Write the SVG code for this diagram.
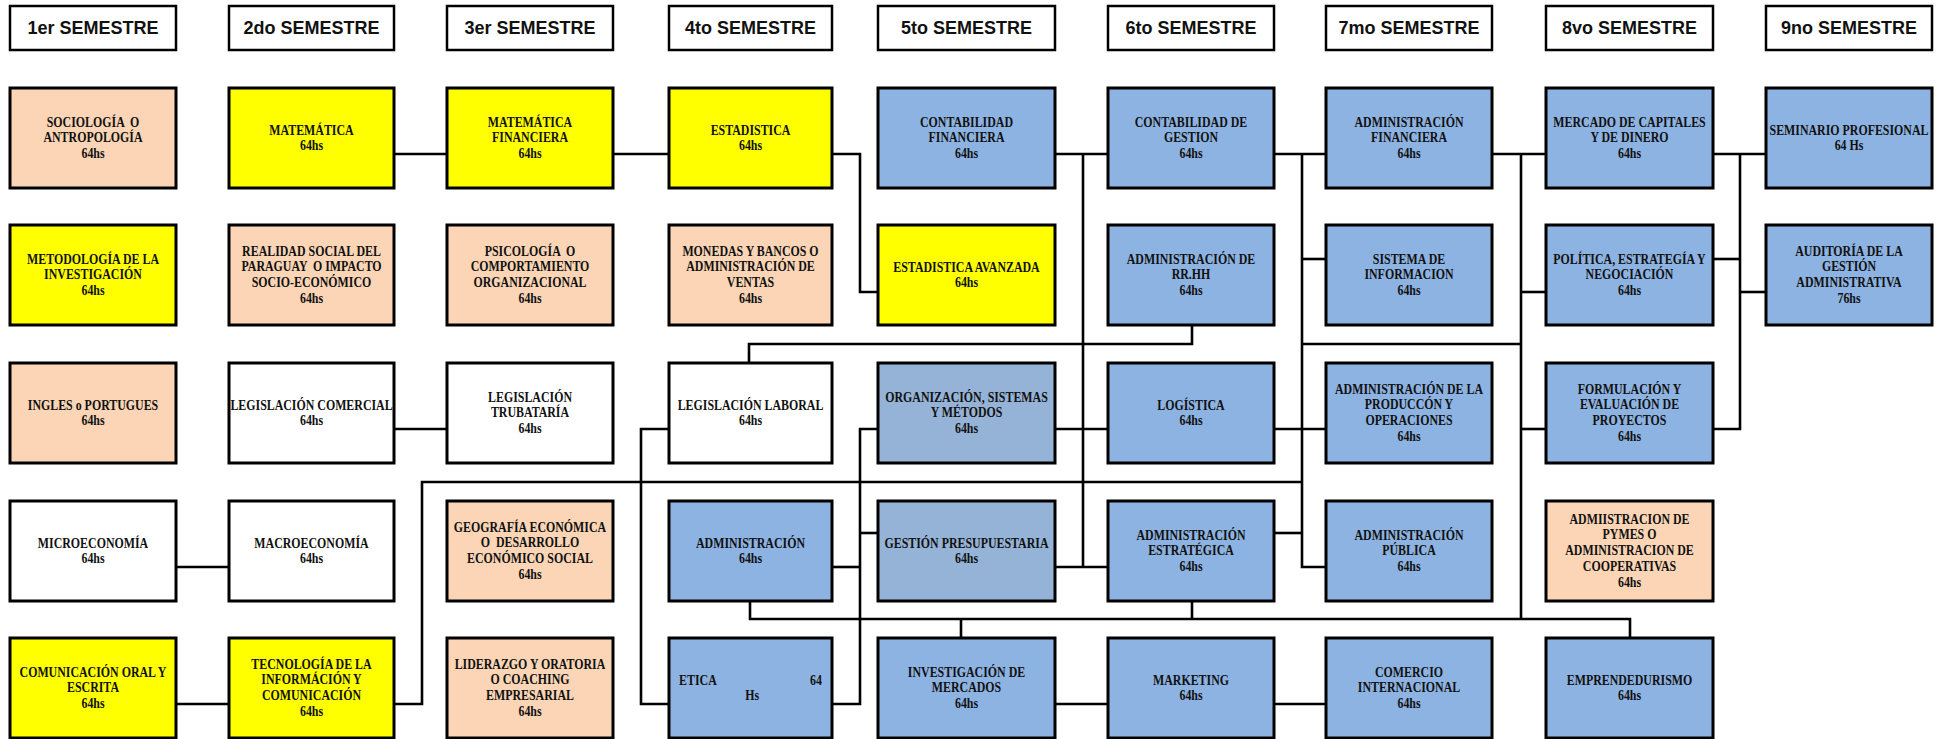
<svg xmlns="http://www.w3.org/2000/svg" width="1942" height="739" viewBox="0 0 1942 739">
<style>
.hd{fill:#fff;stroke:#000;stroke-width:2.5}
.ht{font-family:"Liberation Sans",Arial,sans-serif;font-weight:bold;font-size:18px;fill:#111;text-anchor:middle}
.n{stroke:#000;stroke-width:3}
.pe{fill:#FBD5B5}.ye{fill:#FFFF00}.wh{fill:#FFFFFF}.bl{fill:#8DB3E2}.gb{fill:#95B3D7}
.t{font-family:"Liberation Serif","Times New Roman",serif;font-weight:bold;font-size:14px;fill:#111;text-anchor:middle;white-space:pre}
.c{fill:none;stroke:#000;stroke-width:2.6}
</style>
<rect width="1942" height="739" fill="#fff"/>
<g id="headers">
<g id="h1"><rect class="hd" x="10" y="6" width="166" height="44"/><text class="ht" x="93" y="34">1er SEMESTRE</text></g>
<g id="h2"><rect class="hd" x="229" y="6" width="165" height="44"/><text class="ht" x="311.5" y="34">2do SEMESTRE</text></g>
<g id="h3"><rect class="hd" x="447" y="6" width="166" height="44"/><text class="ht" x="530" y="34">3er SEMESTRE</text></g>
<g id="h4"><rect class="hd" x="669" y="6" width="163" height="44"/><text class="ht" x="750.5" y="34">4to SEMESTRE</text></g>
<g id="h5"><rect class="hd" x="878" y="6" width="177" height="44"/><text class="ht" x="966.5" y="34">5to SEMESTRE</text></g>
<g id="h6"><rect class="hd" x="1108" y="6" width="166" height="44"/><text class="ht" x="1191" y="34">6to SEMESTRE</text></g>
<g id="h7"><rect class="hd" x="1326" y="6" width="166" height="44"/><text class="ht" x="1409" y="34">7mo SEMESTRE</text></g>
<g id="h8"><rect class="hd" x="1546" y="6" width="167" height="44"/><text class="ht" x="1629.5" y="34">8vo SEMESTRE</text></g>
<g id="h9"><rect class="hd" x="1766" y="6" width="166" height="44"/><text class="ht" x="1849" y="34">9no SEMESTRE</text></g>
</g>
<g id="connectors">
<path class="c" d="M394,154H447"/>
<path class="c" d="M613,154H669"/>
<path class="c" d="M832,154H860V292H878"/>
<path class="c" d="M1055,154H1108"/>
<path class="c" d="M1083,154V567"/>
<path class="c" d="M1274,154H1326"/>
<path class="c" d="M1302,154V567H1326"/>
<path class="c" d="M1302,259H1326"/>
<path class="c" d="M1492,154H1546"/>
<path class="c" d="M1521,154V619"/>
<path class="c" d="M1521,292H1546"/>
<path class="c" d="M1521,429H1546"/>
<path class="c" d="M1713,154H1766"/>
<path class="c" d="M1740,154V429H1713"/>
<path class="c" d="M1713,259H1740"/>
<path class="c" d="M1740,292H1766"/>
<path class="c" d="M1192,325V344H749V363"/>
<path class="c" d="M1302,344H1521"/>
<path class="c" d="M394,429H447"/>
<path class="c" d="M669,429H641V704H669"/>
<path class="c" d="M878,429H860V704H832"/>
<path class="c" d="M1055,429H1108"/>
<path class="c" d="M1274,429H1326"/>
<path class="c" d="M394,704H422V482H1302"/>
<path class="c" d="M176,567H229"/>
<path class="c" d="M176,704H229"/>
<path class="c" d="M832,567H860"/>
<path class="c" d="M860,533H878"/>
<path class="c" d="M1055,567H1108"/>
<path class="c" d="M1274,533H1302"/>
<path class="c" d="M750,601V619H1630V638"/>
<path class="c" d="M961,619V638"/>
<path class="c" d="M1192,601V619"/>
<path class="c" d="M1055,704H1108"/>
<path class="c" d="M1274,704H1326"/>
</g>
<g id="col1">
<g id="n-sociologia"><rect class="n pe" x="10" y="88" width="166" height="100"/><text class="t" transform="translate(93,126.5) scale(0.85,1)"><tspan x="0">SOCIOLOGÍA  O</tspan><tspan x="0" dy="16">ANTROPOLOGÍA</tspan><tspan x="0" dy="16">64hs</tspan></text></g>
<g id="n-metodologia"><rect class="n ye" x="10" y="225" width="166" height="100"/><text class="t" transform="translate(93,263.5) scale(0.85,1)"><tspan x="0">METODOLOGÍA DE LA</tspan><tspan x="0" dy="16">INVESTIGACIÓN</tspan><tspan x="0" dy="16">64hs</tspan></text></g>
<g id="n-ingles"><rect class="n pe" x="10" y="363" width="166" height="100"/><text class="t" transform="translate(93,409.5) scale(0.85,1)"><tspan x="0">INGLES o PORTUGUES</tspan><tspan x="0" dy="16">64hs</tspan></text></g>
<g id="n-micro"><rect class="n wh" x="10" y="501" width="166" height="100"/><text class="t" transform="translate(93,547.5) scale(0.85,1)"><tspan x="0">MICROECONOMÍA</tspan><tspan x="0" dy="16">64hs</tspan></text></g>
<g id="n-comunicacion"><rect class="n ye" x="10" y="638" width="166" height="100"/><text class="t" transform="translate(93,676.5) scale(0.85,1)"><tspan x="0">COMUNICACIÓN ORAL Y</tspan><tspan x="0" dy="16">ESCRITA</tspan><tspan x="0" dy="16">64hs</tspan></text></g>
</g>
<g id="col2">
<g id="n-matematica"><rect class="n ye" x="229" y="88" width="165" height="100"/><text class="t" transform="translate(311.5,134.5) scale(0.85,1)"><tspan x="0">MATEMÁTICA</tspan><tspan x="0" dy="16">64hs</tspan></text></g>
<g id="n-realidad"><rect class="n pe" x="229" y="225" width="165" height="100"/><text class="t" transform="translate(311.5,255.5) scale(0.85,1)"><tspan x="0">REALIDAD SOCIAL DEL</tspan><tspan x="0" dy="16">PARAGUAY  O IMPACTO</tspan><tspan x="0" dy="16">SOCIO-ECONÓMICO</tspan><tspan x="0" dy="16">64hs</tspan></text></g>
<g id="n-legcom"><rect class="n wh" x="229" y="363" width="165" height="100"/><text class="t" transform="translate(311.5,409.5) scale(0.85,1)"><tspan x="0">LEGISLACIÓN COMERCIAL</tspan><tspan x="0" dy="16">64hs</tspan></text></g>
<g id="n-macro"><rect class="n wh" x="229" y="501" width="165" height="100"/><text class="t" transform="translate(311.5,547.5) scale(0.85,1)"><tspan x="0">MACROECONOMÍA</tspan><tspan x="0" dy="16">64hs</tspan></text></g>
<g id="n-tecnologia"><rect class="n ye" x="229" y="638" width="165" height="100"/><text class="t" transform="translate(311.5,668.5) scale(0.85,1)"><tspan x="0">TECNOLOGÍA DE LA</tspan><tspan x="0" dy="16">INFORMÁCIÓN Y</tspan><tspan x="0" dy="16">COMUNICACIÓN</tspan><tspan x="0" dy="16">64hs</tspan></text></g>
</g>
<g id="col3">
<g id="n-matfin"><rect class="n ye" x="447" y="88" width="166" height="100"/><text class="t" transform="translate(530,126.5) scale(0.85,1)"><tspan x="0">MATEMÁTICA</tspan><tspan x="0" dy="16">FINANCIERA</tspan><tspan x="0" dy="16">64hs</tspan></text></g>
<g id="n-psicologia"><rect class="n pe" x="447" y="225" width="166" height="100"/><text class="t" transform="translate(530,255.5) scale(0.85,1)"><tspan x="0">PSICOLOGÍA  O</tspan><tspan x="0" dy="16">COMPORTAMIENTO</tspan><tspan x="0" dy="16">ORGANIZACIONAL</tspan><tspan x="0" dy="16">64hs</tspan></text></g>
<g id="n-legtrib"><rect class="n wh" x="447" y="363" width="166" height="100"/><text class="t" transform="translate(530,401.5) scale(0.85,1)"><tspan x="0">LEGISLACIÓN</tspan><tspan x="0" dy="16">TRUBATARÍA</tspan><tspan x="0" dy="16">64hs</tspan></text></g>
<g id="n-geografia"><rect class="n pe" x="447" y="501" width="166" height="100"/><text class="t" transform="translate(530,531.5) scale(0.85,1)"><tspan x="0">GEOGRAFÍA ECONÓMICA</tspan><tspan x="0" dy="16">O  DESARROLLO</tspan><tspan x="0" dy="16">ECONÓMICO SOCIAL</tspan><tspan x="0" dy="16">64hs</tspan></text></g>
<g id="n-liderazgo"><rect class="n pe" x="447" y="638" width="166" height="100"/><text class="t" transform="translate(530,668.5) scale(0.85,1)"><tspan x="0">LIDERAZGO Y ORATORIA</tspan><tspan x="0" dy="16">O COACHING</tspan><tspan x="0" dy="16">EMPRESARIAL</tspan><tspan x="0" dy="16">64hs</tspan></text></g>
</g>
<g id="col4">
<g id="n-estadistica"><rect class="n ye" x="669" y="88" width="163" height="100"/><text class="t" transform="translate(750.5,134.5) scale(0.85,1)"><tspan x="0">ESTADISTICA</tspan><tspan x="0" dy="16">64hs</tspan></text></g>
<g id="n-monedas"><rect class="n pe" x="669" y="225" width="163" height="100"/><text class="t" transform="translate(750.5,255.5) scale(0.85,1)"><tspan x="0">MONEDAS Y BANCOS O</tspan><tspan x="0" dy="16">ADMINISTRACIÓN DE</tspan><tspan x="0" dy="16">VENTAS</tspan><tspan x="0" dy="16">64hs</tspan></text></g>
<g id="n-leglab"><rect class="n wh" x="669" y="363" width="163" height="100"/><text class="t" transform="translate(750.5,409.5) scale(0.85,1)"><tspan x="0">LEGISLACIÓN LABORAL</tspan><tspan x="0" dy="16">64hs</tspan></text></g>
<g id="n-administracion"><rect class="n bl" x="669" y="501" width="163" height="100"/><text class="t" transform="translate(750.5,547.5) scale(0.85,1)"><tspan x="0">ADMINISTRACIÓN</tspan><tspan x="0" dy="16">64hs</tspan></text></g>
<g id="n-etica"><rect class="n bl" x="669" y="638" width="163" height="100"/><text class="t" transform="translate(750.5,684.5) scale(0.85,1)"><tspan x="-84" text-anchor="start">ETICA</tspan><tspan x="84" text-anchor="end">64</tspan><tspan x="2" dy="16">Hs</tspan></text></g>
</g>
<g id="col5">
<g id="n-contfin"><rect class="n bl" x="878" y="88" width="177" height="100"/><text class="t" transform="translate(966.5,126.5) scale(0.85,1)"><tspan x="0">CONTABILIDAD</tspan><tspan x="0" dy="16">FINANCIERA</tspan><tspan x="0" dy="16">64hs</tspan></text></g>
<g id="n-estav"><rect class="n ye" x="878" y="225" width="177" height="100"/><text class="t" transform="translate(966.5,271.5) scale(0.85,1)"><tspan x="0">ESTADISTICA AVANZADA</tspan><tspan x="0" dy="16">64hs</tspan></text></g>
<g id="n-organizacion"><rect class="n gb" x="878" y="363" width="177" height="100"/><text class="t" transform="translate(966.5,401.5) scale(0.85,1)"><tspan x="0">ORGANIZACIÓN, SISTEMAS</tspan><tspan x="0" dy="16">Y MÉTODOS</tspan><tspan x="0" dy="16">64hs</tspan></text></g>
<g id="n-gestpres"><rect class="n gb" x="878" y="501" width="177" height="100"/><text class="t" transform="translate(966.5,547.5) scale(0.85,1)"><tspan x="0">GESTIÓN PRESUPUESTARIA</tspan><tspan x="0" dy="16">64hs</tspan></text></g>
<g id="n-invmerc"><rect class="n bl" x="878" y="638" width="177" height="100"/><text class="t" transform="translate(966.5,676.5) scale(0.85,1)"><tspan x="0">INVESTIGACIÓN DE</tspan><tspan x="0" dy="16">MERCADOS</tspan><tspan x="0" dy="16">64hs</tspan></text></g>
</g>
<g id="col6">
<g id="n-contgest"><rect class="n bl" x="1108" y="88" width="166" height="100"/><text class="t" transform="translate(1191,126.5) scale(0.85,1)"><tspan x="0">CONTABILIDAD DE</tspan><tspan x="0" dy="16">GESTION</tspan><tspan x="0" dy="16">64hs</tspan></text></g>
<g id="n-rrhh"><rect class="n bl" x="1108" y="225" width="166" height="100"/><text class="t" transform="translate(1191,263.5) scale(0.85,1)"><tspan x="0">ADMINISTRACIÓN DE</tspan><tspan x="0" dy="16">RR.HH</tspan><tspan x="0" dy="16">64hs</tspan></text></g>
<g id="n-logistica"><rect class="n bl" x="1108" y="363" width="166" height="100"/><text class="t" transform="translate(1191,409.5) scale(0.85,1)"><tspan x="0">LOGÍSTICA</tspan><tspan x="0" dy="16">64hs</tspan></text></g>
<g id="n-admest"><rect class="n bl" x="1108" y="501" width="166" height="100"/><text class="t" transform="translate(1191,539.5) scale(0.85,1)"><tspan x="0">ADMINISTRACIÓN</tspan><tspan x="0" dy="16">ESTRATÉGICA</tspan><tspan x="0" dy="16">64hs</tspan></text></g>
<g id="n-marketing"><rect class="n bl" x="1108" y="638" width="166" height="100"/><text class="t" transform="translate(1191,684.5) scale(0.85,1)"><tspan x="0">MARKETING</tspan><tspan x="0" dy="16">64hs</tspan></text></g>
</g>
<g id="col7">
<g id="n-admfin"><rect class="n bl" x="1326" y="88" width="166" height="100"/><text class="t" transform="translate(1409,126.5) scale(0.85,1)"><tspan x="0">ADMINISTRACIÓN</tspan><tspan x="0" dy="16">FINANCIERA</tspan><tspan x="0" dy="16">64hs</tspan></text></g>
<g id="n-sistinfo"><rect class="n bl" x="1326" y="225" width="166" height="100"/><text class="t" transform="translate(1409,263.5) scale(0.85,1)"><tspan x="0">SISTEMA DE</tspan><tspan x="0" dy="16">INFORMACION</tspan><tspan x="0" dy="16">64hs</tspan></text></g>
<g id="n-admprod"><rect class="n bl" x="1326" y="363" width="166" height="100"/><text class="t" transform="translate(1409,393.5) scale(0.85,1)"><tspan x="0">ADMINISTRACIÓN DE LA</tspan><tspan x="0" dy="16">PRODUCCÓN Y</tspan><tspan x="0" dy="16">OPERACIONES</tspan><tspan x="0" dy="16">64hs</tspan></text></g>
<g id="n-admpub"><rect class="n bl" x="1326" y="501" width="166" height="100"/><text class="t" transform="translate(1409,539.5) scale(0.85,1)"><tspan x="0">ADMINISTRACIÓN</tspan><tspan x="0" dy="16">PÚBLICA</tspan><tspan x="0" dy="16">64hs</tspan></text></g>
<g id="n-comercio"><rect class="n bl" x="1326" y="638" width="166" height="100"/><text class="t" transform="translate(1409,676.5) scale(0.85,1)"><tspan x="0">COMERCIO</tspan><tspan x="0" dy="16">INTERNACIONAL</tspan><tspan x="0" dy="16">64hs</tspan></text></g>
</g>
<g id="col8">
<g id="n-mercado"><rect class="n bl" x="1546" y="88" width="167" height="100"/><text class="t" transform="translate(1629.5,126.5) scale(0.85,1)"><tspan x="0">MERCADO DE CAPITALES</tspan><tspan x="0" dy="16">Y DE DINERO</tspan><tspan x="0" dy="16">64hs</tspan></text></g>
<g id="n-politica"><rect class="n bl" x="1546" y="225" width="167" height="100"/><text class="t" transform="translate(1629.5,263.5) scale(0.85,1)"><tspan x="0">POLÍTICA, ESTRATEGÍA Y</tspan><tspan x="0" dy="16">NEGOCIACIÓN</tspan><tspan x="0" dy="16">64hs</tspan></text></g>
<g id="n-formulacion"><rect class="n bl" x="1546" y="363" width="167" height="100"/><text class="t" transform="translate(1629.5,393.5) scale(0.85,1)"><tspan x="0">FORMULACIÓN Y</tspan><tspan x="0" dy="16">EVALUACIÓN DE</tspan><tspan x="0" dy="16">PROYECTOS</tspan><tspan x="0" dy="16">64hs</tspan></text></g>
<g id="n-pymes"><rect class="n pe" x="1546" y="501" width="167" height="100"/><text class="t" transform="translate(1629.5,523.5) scale(0.85,1)"><tspan x="0">ADMIISTRACION DE</tspan><tspan x="0" dy="16">PYMES O</tspan><tspan x="0" dy="16">ADMINISTRACION DE</tspan><tspan x="0" dy="16">COOPERATIVAS</tspan><tspan x="0" dy="16">64hs</tspan></text></g>
<g id="n-empre"><rect class="n bl" x="1546" y="638" width="167" height="100"/><text class="t" transform="translate(1629.5,684.5) scale(0.85,1)"><tspan x="0">EMPRENDEDURISMO</tspan><tspan x="0" dy="16">64hs</tspan></text></g>
</g>
<g id="col9">
<g id="n-seminario"><rect class="n bl" x="1766" y="88" width="166" height="100"/><text class="t" transform="translate(1849,134.5) scale(0.85,1)"><tspan x="0">SEMINARIO PROFESIONAL</tspan><tspan x="0" dy="16">64 Hs</tspan></text></g>
<g id="n-auditoria"><rect class="n bl" x="1766" y="225" width="166" height="100"/><text class="t" transform="translate(1849,255.5) scale(0.85,1)"><tspan x="0">AUDITORÍA DE LA</tspan><tspan x="0" dy="16">GESTIÓN</tspan><tspan x="0" dy="16">ADMINISTRATIVA</tspan><tspan x="0" dy="16">76hs</tspan></text></g>
</g>
</svg>
